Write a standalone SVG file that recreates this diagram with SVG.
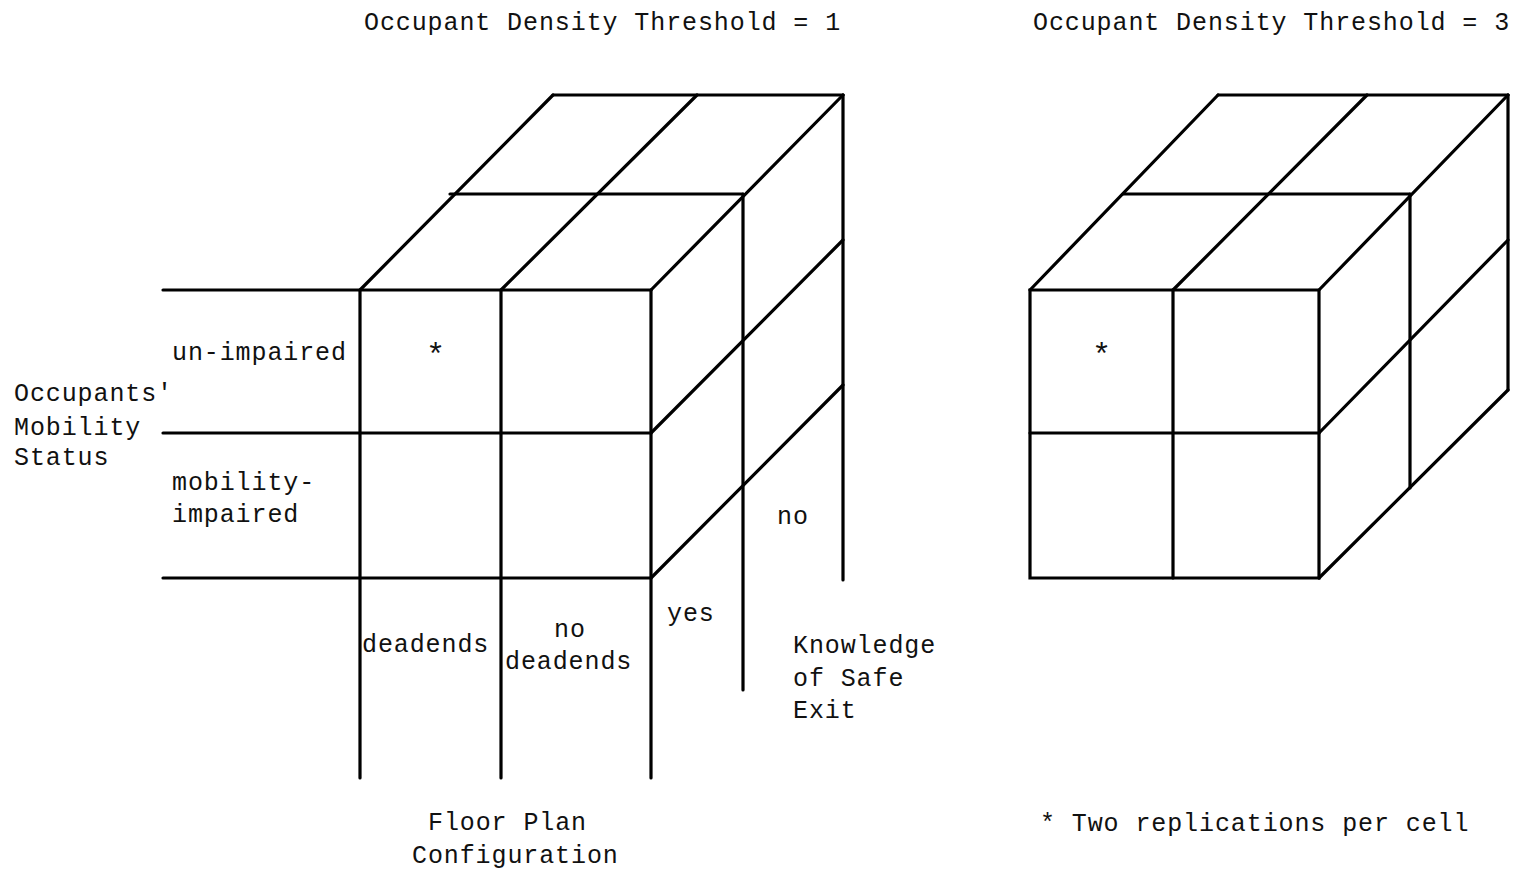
<svg xmlns="http://www.w3.org/2000/svg" width="1523" height="871" viewBox="0 0 1523 871">
<style>
.l{stroke:#000;stroke-width:3.2;fill:none;stroke-linecap:round}
text{font-family:"Liberation Mono","Courier New",monospace;font-size:25px;letter-spacing:0.9px;fill:#111}
.s{font-size:32px}
</style>
<rect width="1523" height="871" fill="#fff"/>
<g id="titles">
<text x="364" y="30">Occupant Density Threshold = 1</text>
<text x="1033" y="30">Occupant Density Threshold = 3</text>
</g>
<g id="cube1" class="l">
<path d="M163 290H651M163 433H651M163 578H651"/>
<path d="M360 290V778M501 290V778M651 290V778"/>
<path d="M450 194H743M553 95H843"/>
<path d="M360 290L553 95M501 290L697 95M651 290L843 95"/>
<path d="M743 194V690M843 95V580"/>
<path d="M651 433L843 240M651 578L843 385"/>
</g>
<g id="labels1">
<text class="s" x="426" y="365">*</text>
<text x="172" y="360">un-impaired</text>
<text x="14" y="401">Occupants'</text>
<text x="14" y="435">Mobility</text>
<text x="14" y="465">Status</text>
<text x="172" y="490">mobility-</text>
<text x="172" y="522">impaired</text>
<text x="777" y="524">no</text>
<text x="667" y="621">yes</text>
<text x="362" y="652">deadends</text>
<text x="554" y="637">no</text>
<text x="505" y="669">deadends</text>
<text x="793" y="653">Knowledge</text>
<text x="793" y="686">of Safe</text>
<text x="793" y="718">Exit</text>
<text x="428" y="830">Floor Plan</text>
<text x="412" y="863">Configuration</text>
</g>
<g id="cube2" class="l">
<path d="M1030 290H1319V578H1030Z"/>
<path d="M1030 433H1319M1173 290V578"/>
<path d="M1123 194H1410M1218 95H1508"/>
<path d="M1030 290L1218 95M1173 290L1367 95M1319 290L1508 95"/>
<path d="M1410 194V488M1508 95V390"/>
<path d="M1319 433L1508 240M1319 578L1508 390"/>
</g>
<g id="labels2">
<text class="s" x="1092" y="365">*</text>
<text x="1040" y="831">* Two replications per cell</text>
</g>
</svg>
